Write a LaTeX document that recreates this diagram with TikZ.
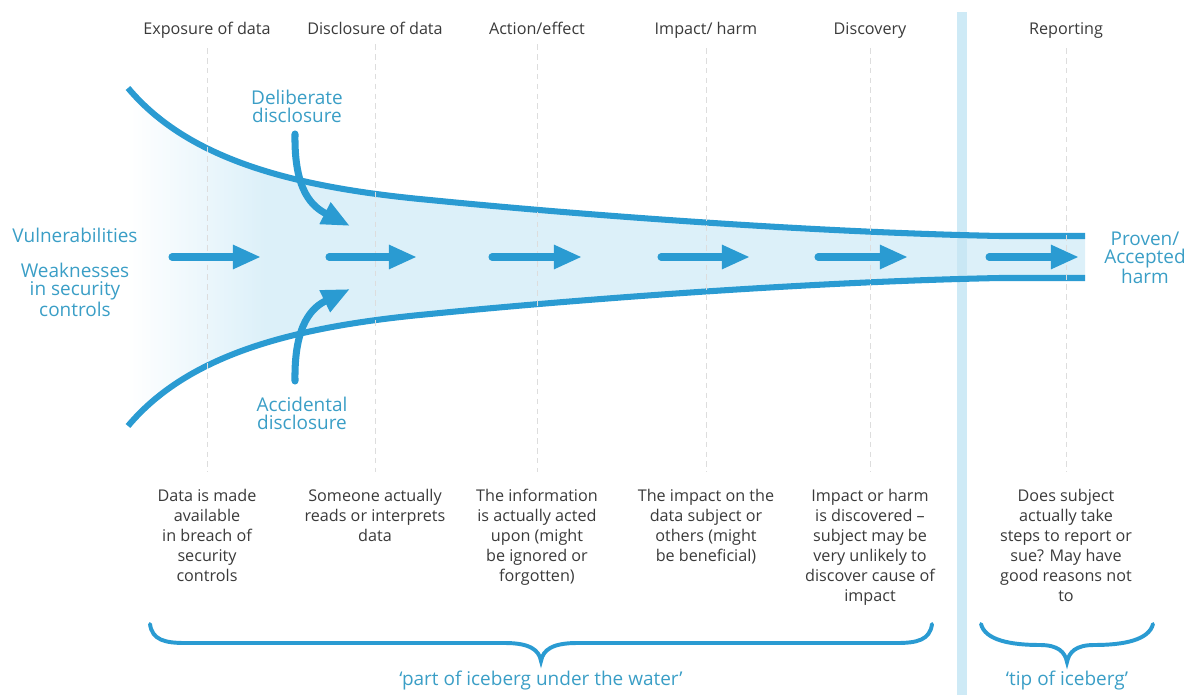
\documentclass[tikz,border=0pt]{standalone}
\usepackage{fontspec}
\setmainfont{Open Sans}
\usetikzlibrary{arrows.meta}
\definecolor{flowblue}{HTML}{2A9BD2}
\definecolor{labelblue}{HTML}{3A9EC6}
\definecolor{funnelfill}{HTML}{DCF0F9}
\definecolor{barblue}{HTML}{C6E6F4}
\definecolor{headgray}{HTML}{3A3A3A}
\definecolor{guidegray}{HTML}{DDDDDD}
\begin{document}
\begin{tikzpicture}[x=0.025cm, y=-0.025cm,
    head/.style={font=\fontsize{11.5}{14.2}\selectfont, text=headgray, anchor=base},
    note/.style={font=\fontsize{11.5}{14.2}\selectfont, text=headgray, align=center, anchor=north},
    bluelabel/.style={font=\fontsize{13.5}{12.8}\selectfont, text=labelblue, align=center},
    guide/.style={guidegray, dash pattern=on 4pt off 3pt, line width=0.6pt},
    funnel/.style={flowblue, line width=4.3pt},
    flowarrow/.style={flowblue, line width=5pt, line cap=round, -{Triangle[length=20pt, width=16pt]}},
    bracket/.style={flowblue, line width=2.8pt, line cap=round}]
  \useasboundingbox (0,0) rectangle (1195,695);
  \begin{scope}
    \clip (128,88) .. controls (190,162) and (300,188) .. (430,200)
      .. controls (560,213) and (800,232) .. (1000,236) -- (1085,236)
      -- (1085,278) -- (1000,278) .. controls (800,282) and (560,301) .. (430,314)
      .. controls (300,326) and (190,352) .. (128,426) -- cycle;
    \shade[left color=white, right color=funnelfill] (128,80) rectangle (265,440);
    \fill[funnelfill] (264,80) rectangle (1090,440);
  \end{scope}
  \fill[barblue, opacity=0.85] (957,12) rectangle (967,695);
  \draw[funnel] (128,88) .. controls (190,162) and (300,188) .. (430,200)
    .. controls (560,213) and (800,232) .. (1000,236) -- (1085,236);
  \draw[funnel] (128,426) .. controls (190,352) and (300,326) .. (430,314)
    .. controls (560,301) and (800,282) .. (1000,278) -- (1085,278);
  \node[head] (h1) at (207,35) {Exposure of data};
  \node[head] (h2) at (375,35) {Disclosure of data};
  \node[head] (h3) at (537,35) {Action/effect};
  \node[head] (h4) at (706,35) {Impact/ harm};
  \node[head] (h5) at (870,35) {Discovery};
  \node[head] (h6) at (1066,35) {Reporting};
  \node[note] (n1) at (207,484) {Data is made\\available\\in breach of\\security\\controls};
  \node[note] (n2) at (375,484) {Someone actually\\reads or interprets\\data};
  \node[note] (n3) at (537,484) {The information\\is actually acted\\upon (might\\be ignored or\\forgotten)};
  \node[note] (n4) at (706,484) {The impact on the\\data subject or\\others (might\\be beneficial)};
  \node[note] (n5) at (870,484) {Impact or harm\\is discovered –\\subject may be\\very unlikely to\\discover cause of\\impact};
  \node[note] (n6) at (1066,484) {Does subject\\actually take\\steps to report or\\sue? May have\\good reasons not\\to};
  \foreach \i in {1,...,6}
    \draw[guide] ([yshift=-3pt]h\i.south) -- ([yshift=8.5pt]n\i.north);
  \node[bluelabel] (vuln) at (75,235) {Vulnerabilities};
  \node[bluelabel] (weak) at (75,290) {Weaknesses\\in security\\controls};
  \node[bluelabel] (delib) at (297,106) {Deliberate\\disclosure};
  \node[bluelabel] (accid) at (302,413) {Accidental\\disclosure};
  \node[bluelabel] (proven) at (1145,258) {Proven/\\Accepted\\harm};
  \foreach \xa/\xb in {172/261, 329/417, 492/582, 661/750, 818/908, 989/1079}
    \draw[flowarrow] (\xa,257) -- (\xb,257);
  \coordinate (delibstart) at (295,134);
  \coordinate (delibend) at (350,226);
  \coordinate (accidstart) at (295,381);
  \coordinate (accidend) at (350,289);
  \draw[flowarrow] (delibstart) .. controls (294,192) and (313,207) .. (delibend);
  \draw[flowarrow] (accidstart) .. controls (294,323) and (313,307) .. (accidend);
  \draw[bracket] (150,624) .. controls (152,640) and (165,643) .. (185,643) -- (505,643)
    .. controls (530,643) and (539,650) .. (541,661)
    .. controls (543,650) and (552,643) .. (577,643) -- (897,643)
    .. controls (917,643) and (930,640) .. (932,624);
  \draw[bracket] (981,624) .. controls (985,640) and (1010,645) .. (1040,645)
    .. controls (1058,645) and (1065,652) .. (1067,662)
    .. controls (1069,652) and (1076,645) .. (1094,645)
    .. controls (1124,645) and (1149,640) .. (1153,624);
  \node[bluelabel] (under) at (541,681) {‘part of iceberg under the water’};
  \node[bluelabel] (tip) at (1067,681) {‘tip of iceberg’};
\end{tikzpicture}
\end{document}
